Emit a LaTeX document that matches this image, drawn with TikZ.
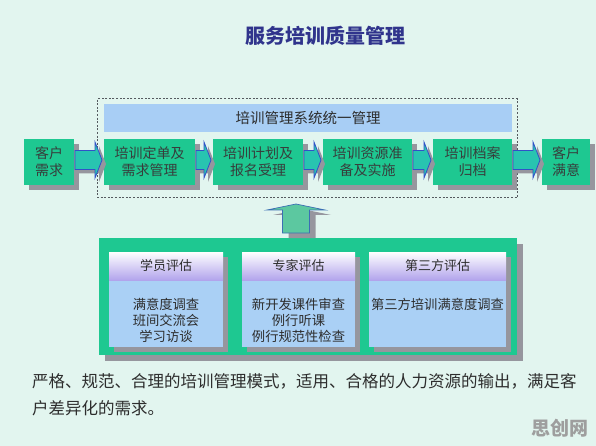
\documentclass[tikz,border=0pt]{standalone}
\usepackage{fontspec}
\newfontfamily\cjk{Noto Sans CJK SC}
\usetikzlibrary{shadows,calc}
\definecolor{bg}{RGB}{226,245,239}
\definecolor{bgreen}{RGB}{30,200,145}
\definecolor{boxtxt}{RGB}{55,62,60}
\definecolor{shd}{RGB}{150,150,158}
\definecolor{arrfill}{RGB}{40,196,176}
\definecolor{arrline}{RGB}{50,80,200}
\definecolor{barblue}{RGB}{168,206,245}
\definecolor{cardblue}{RGB}{170,208,245}
\definecolor{lav}{RGB}{178,164,236}
\definecolor{titleblue}{RGB}{48,52,140}
\definecolor{uparr}{RGB}{92,200,160}
\definecolor{uparrline}{RGB}{60,110,180}
\definecolor{txt}{RGB}{45,45,45}
\definecolor{frameline}{RGB}{85,90,95}

\newcommand\harrowpath[2]{($(#1.east)+(1,-11.5)$) -- ($(#2.west)+(-9,-11.5)$) -- ($(#2.west)+(-9,-20)$) -- ($(#2.west)+(-2,-2)$) -- ($(#2.west)+(-9,16)$) -- ($(#2.west)+(-9,7.5)$) -- ($(#1.east)+(1,7.5)$) -- cycle}
\newcommand\harrow[2]{%
  \fill[shd, transform canvas={xshift=4pt,yshift=-4pt}] \harrowpath{#1}{#2};
  \draw[harr] \harrowpath{#1}{#2};
}

\begin{document}
\begin{tikzpicture}[x=1pt,y=-1pt,
  every node/.style={inner sep=0pt, outer sep=0pt},
  gbox/.style={fill=bgreen, text=boxtxt, align=center, minimum height=46pt,
    font=\cjk\fontsize{14}{17}\selectfont,
    drop shadow={shadow xshift=5pt, shadow yshift=-5pt, fill=shd, opacity=1}},
  harr/.style={fill=arrfill, draw=arrline, line width=0.8pt, line join=miter},
  cardhead/.style={top color=white, bottom color=lav, minimum height=28pt,
    text=txt, font=\cjk\fontsize{13}{16}\selectfont},
  cardbody/.style={fill=cardblue, minimum height=67pt},
  cardtxt/.style={text=txt, align=center, font=\cjk\fontsize{13.3}{16}\selectfont},
]
\useasboundingbox (0,0) rectangle (596,446);
\fill[bg] (0,0) rectangle (596,446);

% title
\node[font=\cjk\bfseries\fontsize{20}{24}\selectfont, text=titleblue] (title) at (325,36) {服务培训质量管理};

% dashed frame and system bar
\node[draw=frameline, dashed, dash pattern=on 2pt off 1.6pt, line width=1pt,
  minimum width=420pt, minimum height=99pt] (frame) at (307,148.5) {};
\node[fill=barblue, minimum width=408pt, minimum height=28pt, text=txt,
  font=\cjk\fontsize{14.5}{17}\selectfont] (bar) at (308,118) {培训管理系统统一管理};

% process boxes
\node[gbox, minimum width=50pt] (b1) at (49,162) {客户\\需求};
\node[gbox, minimum width=91pt] (b2) at (149.5,162) {培训定单及\\需求管理};
\node[gbox, minimum width=90pt] (b3) at (258,162) {培训计划及\\报名受理};
\node[gbox, minimum width=89pt] (b4) at (367.5,162) {培训资源准\\备及实施};
\node[gbox, minimum width=79pt] (b5) at (472.5,162) {培训档案\\归档};
\node[gbox, minimum width=48pt] (b6) at (566,162) {客户\\满意};

\harrow{b1}{b2}
\harrow{b2}{b3}
\harrow{b3}{b4}
\harrow{b4}{b5}
\harrow{b5}{b6}

% evaluation panel
\node[fill=bgreen, minimum width=418pt, minimum height=117pt,
  drop shadow={shadow xshift=6pt, shadow yshift=-6pt, fill=shd, opacity=1}] (panel) at (308,296.5) {};

% up arrow from panel to frame
\coordinate (ub) at ($(panel.north)+(-12,-5)$);
\coordinate (ut) at ($(frame.south -| ub)+(0,6)$);
\fill[shd, transform canvas={xshift=6pt,yshift=-5pt}]
  ($(ub)+(-13.5,0)$) -- ($(ub)+(13.5,0)$) -- ($(ut)+(13.5,6)$) -- ($(ut)+(29,6)$) -- (ut) -- ($(ut)+(-29,6)$) -- ($(ut)+(-13.5,6)$) -- cycle;
\draw[fill=uparr, draw=uparrline, line width=0.7pt]
  ($(ub)+(-13.5,0)$) -- ($(ub)+(13.5,0)$) -- ($(ut)+(13.5,6)$) -- ($(ut)+(29,6)$) -- (ut) -- ($(ut)+(-29,6)$) -- ($(ut)+(-13.5,6)$) -- cycle;

% cards
\foreach \n/\x/\w in {1/166/114, 2/298.5/113, 3/437.5/137}{
  \fill[shd] (\x-\w/2+5, 257) rectangle (\x+\w/2+5, 352);
  \node[cardbody, minimum width=\w pt] (c\n) at (\x,313.5) {};
}
\node[cardhead, minimum width=114pt] (h1) at (166,266) {学员评估};
\node[cardhead, minimum width=113pt] (h2) at (298.5,266) {专家评估};
\node[cardhead, minimum width=137pt] (h3) at (437.5,266) {第三方评估};

\node[cardtxt, anchor=north] (t1) at (166,298.5) {满意度调查\\班间交流会\\学习访谈};
\node[cardtxt, anchor=north] (t2) at (298.5,298.5) {新开发课件审查\\例行听课\\例行规范性检查};
\node[cardtxt, anchor=north] (t3) at (437.5,298.5) {第三方培训满意度调查};

% bottom text
\node[anchor=west, text=txt, font=\cjk\fontsize{16.5}{20}\selectfont] (l1) at (32,381) {严格、规范、合理的培训管理模式，适用、合格的人力资源的输出，满足客};
\node[anchor=west, text=txt, font=\cjk\fontsize{16.5}{20}\selectfont] (l2) at (32,408) {户差异化的需求。};

% watermark
\node[font=\cjk\bfseries\fontsize{19}{22}\selectfont, text=black!38] (wm) at (560,428) {思创网};
\end{tikzpicture}
\end{document}
